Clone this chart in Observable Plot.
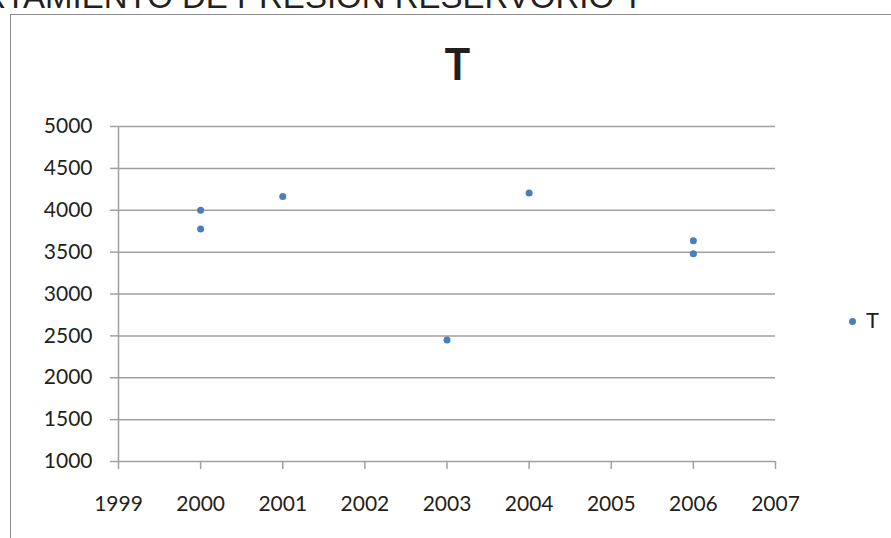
<!DOCTYPE html>
<html>
<head>
<meta charset="utf-8">
<script src="https://cdn.jsdelivr.net/npm/d3@7"></script>
<script src="https://cdn.jsdelivr.net/npm/@observablehq/plot@0.6"></script>
<style>
  html, body { margin: 0; padding: 0; background: #fff; overflow: hidden; }
  #wrap { position: relative; width: 891px; height: 538px; overflow: hidden; }
  .abs { position: absolute; white-space: nowrap; }
</style>
</head>
<body>
<div id="wrap">
  <div class="abs" style="left:-142.5px; top:-20px; font-family:'Liberation Sans',Arial,sans-serif; font-size:33px; line-height:33px; color:#231f20;">COMPORTAMIENTO DE PRESION RESERVORIO T</div>
  <div class="abs" style="left:10px; top:14px; width:900px; height:600px; border-left:1.5px solid #8c8c8c; border-top:1.5px solid #8c8c8c;"></div>
  <div class="abs" id="chartTitle" style="left:0; width:915px; text-align:center; top:42px; font-family:Lato,sans-serif; font-weight:bold; font-size:43px; line-height:43px; color:#231f20;">T</div>
  <div class="abs" style="left:848.5px; top:317.5px; width:7px; height:7px; border-radius:50%; background:#4a7ebb;"></div>
  <div class="abs" style="left:866px; top:308.5px; font-family:Lato,sans-serif; font-size:22px; line-height:22px; color:#231f20;">T</div>
  <div class="abs" id="plot" style="left:0; top:0;"></div>
</div>
<script>
const years = [2000, 2000, 2001, 2003, 2004, 2006, 2006];
const pressure = [4000, 3775, 4165, 2450, 4205, 3635, 3480];
const xTicks = [1999, 2000, 2001, 2002, 2003, 2004, 2005, 2006, 2007];
const yTicks = [1000, 1500, 2000, 2500, 3000, 3500, 4000, 4500, 5000];

const data = years.map((y, i) => ({year: y, value: pressure[i]}));
const grey = "#a0a0a0";
const txt = "#231f20";

const chart = Plot.plot({
  width: 891,
  height: 538,
  marginLeft: 118,
  marginRight: 116,
  marginTop: 126,
  marginBottom: 77,
  style: {background: "transparent", fontFamily: "Lato, sans-serif", fontSize: "21px", color: txt},
  x: {domain: [1999, 2007]},
  y: {domain: [1000, 5000]},
  marks: [
    Plot.ruleY(yTicks, {stroke: grey, strokeWidth: 1.5}),
    Plot.ruleX([1999], {y1: 1000, y2: 5000, stroke: grey, strokeWidth: 1.5}),
    Plot.axisY({ticks: yTicks, tickFormat: d => String(d), tickSize: 8, tickPadding: 18, stroke: grey, strokeWidth: 1.5, label: null, fill: txt}),
    Plot.axisX({ticks: xTicks, tickFormat: d => String(d), tickSize: 8, tickPadding: 27, stroke: grey, strokeWidth: 1.5, label: null, fill: txt}),
    Plot.dot(data, {x: "year", y: "value", r: 3.5, fill: "#4a7ebb", stroke: "none"})
  ]
});
document.getElementById("plot").appendChild(chart);
</script>
</body>
</html>
